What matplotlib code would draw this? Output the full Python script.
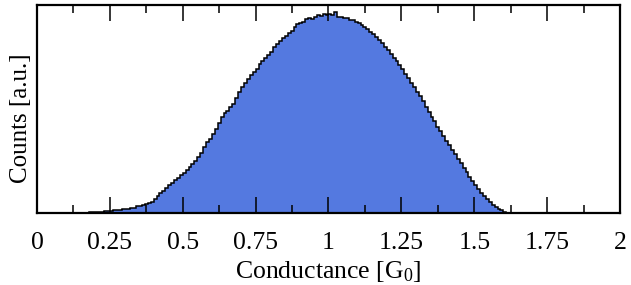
import matplotlib
matplotlib.use("Agg")
import matplotlib.pyplot as plt
import numpy as np

# histogram of conductance, bin width 0.01 starting at 0.10 (arbitrary count units)
bin_start = 0.10
bin_width = 0.01
counts = [
    0.1, 0.1, 0.2, 0.2, 0.3, 0.3, 0.4, 0.5, 0.6, 0.8,
    1.0, 1.2, 1.5, 1.8, 2.1, 2.4, 2.8, 3.0, 3.3, 3.6,
    4.0, 4.5, 5.0, 5.5, 6.6, 7.5, 8.2, 9.0, 10.2, 11.5,
    14.5, 17.0, 20.0, 22.5, 25.0, 28.0, 30.5, 33.0, 35.5, 38.0,
    40.5, 43.5, 46.5, 49.0, 52.0, 56.0, 60.0, 66.0, 71.0, 74.5,
    79.0, 84.0, 90.0, 96.0, 99.5, 102.0, 105.5, 109.0, 115.0, 121.0,
    126.0, 130.0, 134.0, 137.5, 141.0, 144.0, 148.5, 152.0, 155.0, 158.0,
    161.0, 165.5, 169.0, 172.0, 174.5, 177.0, 179.5, 182.0, 185.5, 188.5,
    190.0, 191.0, 193.5, 194.5, 194.0, 196.0, 197.5, 197.0, 198.5, 198.0,
    199.0, 198.0, 200.5, 196.0, 195.5, 195.0, 194.5, 193.0, 193.0, 191.0,
    189.5, 188.0, 185.5, 183.5, 180.5, 179.0, 176.0, 172.5, 169.5, 166.0,
    162.5, 158.5, 155.0, 151.5, 148.0, 143.5, 139.0, 134.5, 130.0, 125.5,
    121.0, 116.5, 111.5, 106.0, 100.5, 96.0, 91.5, 86.5, 82.0, 77.5,
    72.5, 68.0, 63.5, 59.0, 54.5, 50.0, 45.5, 41.0, 36.5, 32.0,
    28.0, 24.0, 20.5, 17.0, 14.0, 11.0, 8.5, 6.5, 4.5, 3.0,
    1.5, 0.5,
]
xticks = [0, 0.25, 0.5, 0.75, 1, 1.25, 1.5, 1.75, 2]
xticklabels = ["0", "0.25", "0.5", "0.75", "1", "1.25", "1.5", "1.75", "2"]

edges = bin_start + bin_width * np.arange(len(counts) + 1)

plt.rcParams["font.family"] = ["Liberation Serif", "DejaVu Serif"]
plt.rcParams["mathtext.fontset"] = "custom"
plt.rcParams["mathtext.rm"] = "Liberation Serif"
plt.rcParams["mathtext.it"] = "Liberation Serif:italic"

fig = plt.figure(figsize=(6.31, 2.85), dpi=100)
ax = fig.add_axes([0.0586, 0.2526, 0.9240, 0.7299])

ax.stairs(counts, edges, fill=True, color="#5479e0", lw=0)
ax.stairs(counts, edges, color="black", lw=1.1)

ax.set_xlim(0, 2)
ax.set_ylim(0, 208)
ax.set_xticks(xticks)
ax.set_xticklabels(xticklabels)
ax.set_xticks(np.arange(0.125, 2, 0.25), minor=True)
ax.set_yticks([])
ax.tick_params(axis="x", which="major", direction="in", top=True, length=11.5,
               width=1.1, labelsize=18.5, pad=13.5)
ax.tick_params(axis="x", which="minor", direction="in", top=True, length=5.8,
               width=1.1)
for s in ax.spines.values():
    s.set_linewidth(1.6)

ax.set_xlabel("Conductance [G$_0$]", fontsize=18.5, labelpad=4)
ax.set_ylabel("Counts [a.u.]", fontsize=18)
ax.yaxis.set_label_coords(-0.008, 0.457)

fig.savefig("out.png", dpi=100)
